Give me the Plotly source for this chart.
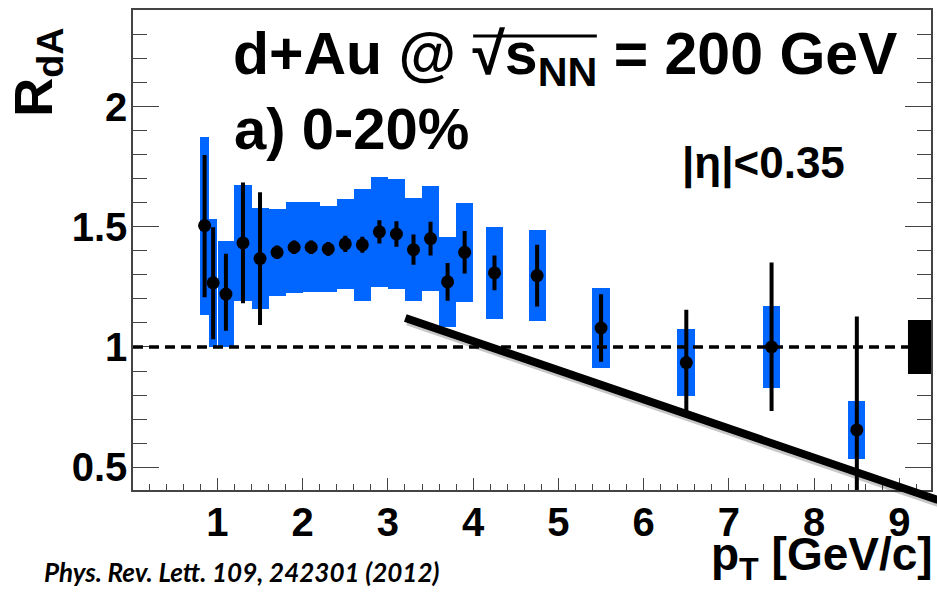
import plotly.graph_objects as go

# ---------------- data ----------------
pt = [0.85, 0.95, 1.1, 1.3, 1.5, 1.7, 1.9, 2.1, 2.3, 2.5, 2.7, 2.9, 3.1, 3.3,
      3.5, 3.7, 3.9, 4.25, 4.75, 5.5, 6.5, 7.5, 8.5]
rda = [1.505, 1.267, 1.22, 1.433, 1.368, 1.394, 1.415, 1.415, 1.408, 1.429,
       1.425, 1.479, 1.47, 1.405, 1.451, 1.271, 1.394, 1.308, 1.297, 1.079,
       0.935, 1.0, 0.655]
stat_up = [0.285, 0.223, 0.16, 0.243, 0.267, 0.02, 0.02, 0.02, 0.02, 0.025,
           0.025, 0.04, 0.045, 0.055, 0.062, 0.07, 0.08, 0.064, 0.12, 0.132,
           0.212, 0.343, 0.463]
stat_dn = [0.29, 0.227, 0.144, 0.243, 0.268, 0.02, 0.02, 0.02, 0.02, 0.025,
           0.025, 0.04, 0.045, 0.055, 0.062, 0.07, 0.08, 0.064, 0.12, 0.132,
           0.193, 0.258, 0.463]
sys_err = [0.37, 0.265, 0.22, 0.243, 0.21, 0.18, 0.19, 0.188, 0.18, 0.186,
           0.234, 0.23, 0.227, 0.213, 0.218, 0.187, 0.206, 0.192, 0.19, 0.167,
           0.139, 0.17, 0.12]
sys_width = [0.1, 0.1, 0.18, 0.2, 0.2, 0.2, 0.2, 0.2, 0.2, 0.2, 0.2, 0.2, 0.2,
             0.2, 0.2, 0.2, 0.2, 0.21, 0.2, 0.21, 0.21, 0.2, 0.2]
norm_unc = 0.112          # global normalisation uncertainty (black box at 1)
norm_x0 = 9.1
x_ticks = [1, 2, 3, 4, 5, 6, 7, 8, 9]
y_ticks = [0.5, 1, 1.5, 2]
y_ticktext = ["0.5", "1", "1.5", "2"]
x_range = [0.01, 9.37]
y_range = [0.405, 2.402]

BLUE = "#0066ff"
FONT = "Liberation Sans"

fig = go.Figure()

# systematic boxes
fig.add_trace(go.Bar(
    x=pt,
    y=[2 * s for s in sys_err],
    base=[r - s for r, s in zip(rda, sys_err)],
    width=sys_width,
    marker=dict(color=BLUE, line=dict(width=0)),
    showlegend=False, hoverinfo="skip",
))

# data points with statistical errors
fig.add_trace(go.Scatter(
    x=pt, y=rda, mode="markers",
    marker=dict(color="black", size=13, symbol="circle"),
    error_y=dict(type="data", symmetric=False, array=stat_up,
                 arrayminus=stat_dn, color="black", thickness=4, width=2),
    showlegend=False, cliponaxis=True,
))

W, H = 937, 594
L, R, T, B = 133, 4, 10, 104


def px(xp):
    return (xp - L) / (W - L - R)


def py(yp):
    return (H - B - yp) / (H - T - B)


# hand-drawn overlay line (page pixels; it runs past the frame)
line_start = (406, 318)
line_end = (940, 500)

shapes = [
    # dashed unity line
    dict(type="line", xref="paper", yref="y", x0=0, x1=1, y0=1, y1=1,
         line=dict(color="black", width=3.5, dash="10px,6px"), layer="above"),
    # normalisation box
    dict(type="rect", xref="x", yref="y", x0=norm_x0, x1=x_range[1],
         y0=1 - norm_unc, y1=1 + norm_unc, fillcolor="black",
         line=dict(width=0), layer="above"),
    # shadow of overlay line
    dict(type="line", xref="paper", yref="paper",
         x0=px(line_start[0] + 2), y0=py(line_start[1] + 4),
         x1=px(line_end[0] + 2), y1=py(line_end[1] + 4),
         line=dict(color="rgba(0,0,0,0.22)", width=7), layer="above"),
    # overlay line
    dict(type="line", xref="paper", yref="paper",
         x0=px(line_start[0]), y0=py(line_start[1]),
         x1=px(line_end[0]), y1=py(line_end[1]),
         line=dict(color="black", width=8), layer="above"),
    # overline of sqrt
    dict(type="line", xref="paper", yref="paper",
         x0=px(474), x1=px(598), y0=py(36), y1=py(36),
         line=dict(color="black", width=3), layer="above"),
]

annotations = [
    dict(xref="paper", yref="paper", x=px(231), y=py(58), xanchor="left",
         yanchor="middle", showarrow=False,
         text="d+Au @ √s<sub>NN</sub> = 200 GeV",
         font=dict(family=FONT, size=59, color="black", weight="bold")),
    dict(xref="paper", yref="paper", x=px(232), y=py(128), xanchor="left",
         yanchor="middle", showarrow=False, text="a) 0-20%",
         font=dict(family=FONT, size=58, color="black", weight="bold")),
    dict(xref="paper", yref="paper", x=px(765), y=py(163), xanchor="center",
         yanchor="middle", showarrow=False, text="|η|<0.35",
         font=dict(family=FONT, size=44, color="black", weight="bold")),
    dict(xref="paper", yref="paper", x=px(36), y=py(26), xanchor="center",
         yanchor="top", showarrow=False, textangle=-90,
         text="R<sub>dA</sub>",
         font=dict(family=FONT, size=54, color="black", weight="bold")),
    dict(xref="paper", yref="paper", x=px(937), y=py(557), xanchor="right",
         yanchor="middle", showarrow=False,
         text="p<sub>T</sub> [GeV/c]",
         font=dict(family=FONT, size=46, color="black", weight="bold")),
    dict(xref="paper", yref="paper", x=px(42), y=py(572), xanchor="left",
         yanchor="middle", showarrow=False,
         text="<b><i>Phys. Rev. Lett. 109, 242301 (2012)</i></b>",
         font=dict(family="Lato", size=26, color="black")),
]

fig.update_layout(
    width=W, height=H,
    margin=dict(l=L, r=R, t=T, b=B, pad=0),
    paper_bgcolor="white", plot_bgcolor="white",
    barmode="overlay", bargap=0,
    shapes=shapes, annotations=annotations,
    xaxis=dict(range=x_range, tickmode="array", tickvals=x_ticks,
               ticktext=[str(v) for v in x_ticks],
               ticks="inside", ticklen=12, tickwidth=1.2, tickcolor="#444",
               minor=dict(ticks="inside", ticklen=6, dtick=0.2,
                          tickcolor="#444", tickwidth=1),
               showline=True, linecolor="#444", linewidth=1.5, mirror=True,
               showgrid=False, zeroline=False, ticklabelstandoff=-4,
               tickfont=dict(family=FONT, size=40, color="black",
                             weight="bold")),
    yaxis=dict(range=y_range, tickmode="array", tickvals=y_ticks,
               ticktext=y_ticktext,
               ticks="inside", ticklen=26, tickwidth=1.2, tickcolor="#444",
               minor=dict(ticks="inside", ticklen=14, dtick=0.1,
                          tickcolor="#444", tickwidth=1),
               showline=True, linecolor="#444", linewidth=1.5, mirror="ticks",
               showgrid=False, zeroline=False, ticklabelstandoff=-4,
               tickfont=dict(family=FONT, size=40, color="black",
                             weight="bold")),
)

fig.write_html("out.html",
               config={"displayModeBar": False},
               post_script="document.body.style.margin='0';"
                           "document.body.style.overflow='hidden';")
